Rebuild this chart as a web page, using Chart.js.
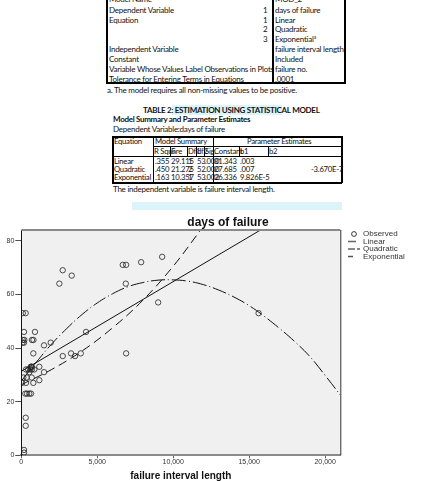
<!DOCTYPE html>
<html>
<head>
<meta charset="utf-8">
<script src="https://cdn.jsdelivr.net/npm/chart.js@4.4.1/dist/chart.umd.min.js"></script>
<style>
body { margin:0; width:440px; height:481px; overflow:hidden; background:#fff; position:relative; font-family: Lato, "Open Sans", sans-serif; color:#111; }
.t { position:absolute; font-size:8px; letter-spacing:-0.25px; line-height:10px; white-space:nowrap; }
.s { position:absolute; font-size:7.7px; letter-spacing:-0.25px; line-height:9px; white-space:nowrap; }
.b { font-weight:bold; }
.ln { position:absolute; background:#000; }
.hl { position:absolute; background:#dcf3f9; }
sup { font-size:5px; line-height:0; vertical-align:3px; }
#wrap { position:absolute; left:0; top:212px; width:440px; height:269px; }
</style>
</head>
<body>
<!-- table 1 -->
<div class="ln" style="left:106px;top:0;width:2px;height:84px"></div>
<div class="ln" style="left:272px;top:0;width:1.5px;height:84px"></div>
<div class="ln" style="left:344px;top:0;width:2px;height:84px"></div>
<div class="ln" style="left:106px;top:82px;width:240px;height:2px"></div>
<div class="t" style="left:109px;top:-6px">Model Name</div>
<div class="t" style="left:275px;top:-6px">MOD_2</div>
<div class="t" style="left:109px;top:5px">Dependent Variable</div>
<div class="t" style="left:263px;top:5px">1</div>
<div class="t" style="left:275px;top:5px">days of failure</div>
<div class="t" style="left:109px;top:15px">Equation</div>
<div class="t" style="left:263px;top:15px">1</div>
<div class="t" style="left:275px;top:15px">Linear</div>
<div class="t" style="left:263px;top:24px">2</div>
<div class="t" style="left:275px;top:24px">Quadratic</div>
<div class="t" style="left:263px;top:34px">3</div>
<div class="t" style="left:275px;top:34px">Exponential<sup>a</sup></div>
<div class="t" style="left:109px;top:44px">Independent Variable</div>
<div class="t" style="left:275px;top:44px">failure interval length</div>
<div class="t" style="left:109px;top:54px">Constant</div>
<div class="t" style="left:275px;top:54px">Included</div>
<div class="t" style="left:109px;top:64px">Variable Whose Values Label Observations in Plots</div>
<div class="t" style="left:275px;top:64px">failure no.</div>
<div class="t" style="left:109px;top:74px">Tolerance for Entering Terms in Equations</div>
<div class="t" style="left:275px;top:74px">.0001</div>
<div class="t" style="left:107px;top:85px">a. The model requires all non-missing values to be positive.</div>

<!-- table 2 -->
<div class="hl" style="left:172px;top:105px;width:110px;height:10px"></div>
<div class="t b" style="left:143px;top:105px;letter-spacing:-0.3px">TABLE 2: ESTIMATION USING STATISTICAL MODEL</div>
<div class="t b" style="left:113px;top:114px;letter-spacing:-0.3px">Model Summary and Parameter Estimates</div>
<div class="t" style="left:113px;top:124px">Dependent Variable:days of failure</div>

<div class="ln" style="left:112px;top:136px;width:230px;height:1.5px"></div>
<div class="ln" style="left:153px;top:146px;width:189px;height:1px"></div>
<div class="ln" style="left:112px;top:156px;width:230px;height:1px"></div>
<div class="ln" style="left:112px;top:182px;width:230px;height:1.5px"></div>
<div class="ln" style="left:112px;top:136px;width:1.5px;height:47px"></div>
<div class="ln" style="left:153px;top:136px;width:1px;height:47px"></div>
<div class="ln" style="left:213px;top:136px;width:1px;height:47px"></div>
<div class="ln" style="left:341px;top:136px;width:1.5px;height:47px"></div>
<div class="ln" style="left:170px;top:146px;width:1px;height:10px"></div>
<div class="ln" style="left:187px;top:146px;width:1px;height:10px"></div>
<div class="ln" style="left:196px;top:146px;width:1px;height:10px"></div>
<div class="ln" style="left:204px;top:146px;width:1px;height:10px"></div>
<div class="ln" style="left:239px;top:146px;width:1px;height:10px"></div>
<div class="ln" style="left:268px;top:146px;width:1px;height:10px"></div>

<div class="s" style="left:114px;top:137px">Equation</div>
<div class="s" style="left:155px;top:137px">Model Summary</div>
<div class="s" style="left:247px;top:137px">Parameter Estimates</div>
<div class="s" style="left:154px;top:147px">R Square</div>
<div class="s" style="left:171px;top:147px">F</div>
<div class="s" style="left:188px;top:147px">Df1</div>
<div class="s" style="left:197px;top:147px">df2</div>
<div class="s" style="left:205px;top:147px">Sig.</div>
<div class="s" style="left:214px;top:147px">Constant</div>
<div class="s" style="left:240px;top:147px">b1</div>
<div class="s" style="left:269px;top:147px">b2</div>

<div class="s" style="left:114px;top:157px">Linear</div>
<div class="s" style="left:155px;top:157px">.355</div>
<div class="s" style="left:171px;top:157px">29.115</div>
<div class="s" style="left:188px;top:157px">1</div>
<div class="s" style="left:197px;top:157px">53</div>
<div class="s" style="left:205px;top:157px">.000</div>
<div class="s" style="left:214px;top:157px">31.343</div>
<div class="s" style="left:240px;top:157px">.003</div>

<div class="s" style="left:114px;top:165px">Quadratic</div>
<div class="s" style="left:155px;top:165px">.450</div>
<div class="s" style="left:171px;top:165px">21.275</div>
<div class="s" style="left:188px;top:165px">2</div>
<div class="s" style="left:197px;top:165px">52</div>
<div class="s" style="left:205px;top:165px">.000</div>
<div class="s" style="left:214px;top:165px">27.685</div>
<div class="s" style="left:240px;top:165px">.007</div>
<div class="s" style="left:311px;top:165px">-3.670E-7</div>

<div class="s" style="left:114px;top:173px">Exponential</div>
<div class="s" style="left:155px;top:173px">.163</div>
<div class="s" style="left:171px;top:173px">10.357</div>
<div class="s" style="left:188px;top:173px">1</div>
<div class="s" style="left:197px;top:173px">53</div>
<div class="s" style="left:205px;top:173px">.002</div>
<div class="s" style="left:214px;top:173px">26.336</div>
<div class="s" style="left:240px;top:173px">9.826E-5</div>

<div class="t" style="left:113px;top:184px">The independent variable is failure interval length.</div>
<div class="hl" style="left:132px;top:202px;width:210px;height:8px"></div>

<div id="wrap"><canvas id="chart" width="440" height="269"></canvas></div>

<script>
// observed points (failure interval length, days of failure)
const obsX = [2728, 3320, 2505, 100, 290, 178, 900, 100, 200, 700, 800, 178, 1496, 1937, 791,
  2728, 3275, 3539, 3914, 6900, 4264, 620, 690, 600, 700, 1186, 310, 857, 527, 1496,
  132, 356, 685, 1186, 310, 791, 50, 264, 376, 527, 640, 290, 290, 178, 178,
  6680, 6900, 7890, 9272, 6880, 9010, 15620, 660, 80, 450];
const obsY = [69, 67, 64, 53, 53, 46, 46, 43, 43, 43, 43, 42, 41, 42, 38,
  37, 38, 37, 38, 38, 46, 33, 33, 32, 32, 33, 32, 32, 31, 31,
  29, 29, 29, 28, 27, 27, 27, 23, 23, 23, 23, 14, 11, 2, 1,
  71, 71, 72, 74, 64, 57, 53, 33, 42, 32];

// fitted curves
const linX = [0, 15750];
const linY = [31.3, 84];
const quadX = [0, 1000, 2000, 3000, 4000, 5000, 6000, 7000, 8000, 9000, 10000,
  11000, 12000, 13000, 14000, 15000, 16000, 17000, 18000, 19000, 20000, 21000];
const quadY = [27.7, 34.8, 41.5, 47.3, 52.5, 56.8, 60.2, 62.8, 64.4, 65.3, 65.4,
  64.9, 63.6, 61.6, 59.0, 55.8, 51.8, 47.3, 42.4, 36.8, 29.8, 22.5];
const expX = [0, 2000, 4000, 6000, 8000, 10000, 12000];
const expY = [26.3, 32.0, 38.9, 47.5, 57.8, 70.5, 85.5];

const xTicks = [0, 5000, 10000, 15000, 20000];
const yTicks = [0, 20, 40, 60, 80];

const toPts = (xs, ys) => xs.map((x, i) => ({ x: x, y: ys[i] }));

const decor = {
    id: 'decor',
    beforeDraw(chart) {
        const { ctx, chartArea: a } = chart;
        ctx.save();
        ctx.fillStyle = '#f0f0f0';
        ctx.fillRect(a.left, a.top, a.right - a.left, a.bottom - a.top);
        ctx.restore();
    },
    afterDraw(chart) {
        const { ctx, chartArea: a } = chart;
        ctx.save();
        // top and right frame
        ctx.strokeStyle = '#8a8a8a';
        ctx.lineWidth = 2;
        ctx.beginPath();
        ctx.moveTo(a.left, a.top);
        ctx.lineTo(a.right, a.top);
        ctx.stroke();
        ctx.strokeStyle = '#333';
        ctx.lineWidth = 1;
        ctx.beginPath();
        ctx.moveTo(a.right + 0.5, a.top);
        ctx.lineTo(a.right + 0.5, a.bottom);
        ctx.stroke();

        // title
        ctx.fillStyle = '#111';
        ctx.font = 'bold 12px "Liberation Sans", Arial, sans-serif';
        ctx.textAlign = 'center';
        ctx.textBaseline = 'middle';
        ctx.fillText('days of failure', 228, 11);

        // legend
        ctx.font = '8px "Liberation Sans", Arial, sans-serif';
        ctx.textAlign = 'left';
        ctx.fillStyle = '#333';
        const lx = 348, tx = 363;
        const rows = [22, 29.5, 37, 44.5];
        ctx.strokeStyle = '#222';
        ctx.lineWidth = 0.9;
        ctx.beginPath();
        ctx.arc(354, rows[0], 2.4, 0, Math.PI * 2);
        ctx.stroke();
        ctx.fillText('Observed', tx, rows[0]);
        ctx.strokeStyle = '#666';
        ctx.lineWidth = 1.5;
        ctx.beginPath(); ctx.moveTo(lx, rows[1]); ctx.lineTo(lx + 8, rows[1]); ctx.stroke();
        ctx.fillText('Linear', tx, rows[1]);
        ctx.strokeStyle = '#111';
        ctx.lineWidth = 1;
        ctx.beginPath(); ctx.moveTo(lx, rows[2]); ctx.lineTo(lx + 7, rows[2]); ctx.moveTo(lx + 9, rows[2]); ctx.lineTo(lx + 12, rows[2]); ctx.stroke();
        ctx.fillText('Quadratic', tx, rows[2]);
        ctx.strokeStyle = '#555';
        ctx.lineWidth = 1.5;
        ctx.beginPath(); ctx.moveTo(lx, rows[3]); ctx.lineTo(lx + 5, rows[3]); ctx.stroke();
        ctx.fillText('Exponential', tx, rows[3]);
        ctx.restore();
    }
};

new Chart(document.getElementById('chart'), {
    type: 'scatter',
    data: {
        datasets: [
            {
                label: 'Observed',
                data: toPts(obsX, obsY),
                pointStyle: 'circle',
                pointRadius: 2.7,
                pointBorderWidth: 0.8,
                pointBorderColor: '#222',
                pointBackgroundColor: 'rgba(0,0,0,0)'
            },
            {
                label: 'Linear',
                data: toPts(linX, linY),
                showLine: true,
                borderColor: '#111',
                borderWidth: 1,
                pointRadius: 0
            },
            {
                label: 'Quadratic',
                data: toPts(quadX, quadY),
                showLine: true,
                borderColor: '#111',
                borderWidth: 1,
                borderDash: [14, 3, 1, 3],
                tension: 0.4,
                pointRadius: 0
            },
            {
                label: 'Exponential',
                data: toPts(expX, expY),
                showLine: true,
                borderColor: '#111',
                borderWidth: 1,
                borderDash: [9, 5],
                tension: 0.4,
                pointRadius: 0
            }
        ]
    },
    options: {
        responsive: false,
        animation: false,
        layout: { padding: { top: 18, right: 99.7, left: 0, bottom: 0 } },
        plugins: {
            legend: { display: false },
            title: { display: false },
            tooltip: { enabled: false }
        },
        scales: {
            x: {
                type: 'linear',
                min: 0,
                max: 21000,
                afterBuildTicks: s => { s.ticks = xTicks.map(v => ({ value: v })); },
                afterFit: s => { s.height = 25.7; },
                ticks: { font: { size: 7, family: '"Liberation Sans", Arial' }, color: '#333', padding: 0, maxRotation: 0 },
                grid: { drawOnChartArea: false, drawTicks: true, tickLength: 3, color: '#333', tickWidth: 0.8 },
                border: { display: true, color: '#8a8a8a', width: 2 },
                title: {
                    display: true,
                    text: 'failure interval length',
                    font: { size: 10, weight: 'bold', family: '"Liberation Sans", Arial', lineHeight: 1 },
                    color: '#111',
                    padding: { top: 0, bottom: 0 }
                }
            },
            y: {
                min: 0,
                max: 84,
                afterBuildTicks: s => { s.ticks = yTicks.map(v => ({ value: v })); },
                afterFit: s => { s.width = 21.3; },
                ticks: { font: { size: 7, family: '"Liberation Sans", Arial' }, color: '#333', padding: 1 },
                grid: { drawOnChartArea: false, drawTicks: true, tickLength: 6, color: '#222', tickWidth: 0.8 },
                border: { display: true, color: '#111', width: 1 }
            }
        }
    },
    plugins: [decor]
});
</script>
</body>
</html>
